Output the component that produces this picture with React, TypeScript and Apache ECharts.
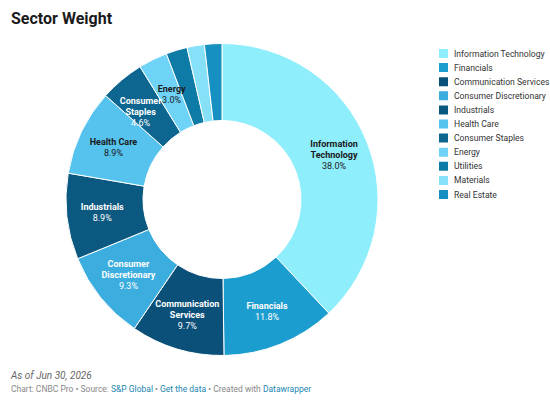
import React, { useEffect, useRef } from "react";
import * as echarts from "echarts";

const sectors = [
  "Information Technology",
  "Financials",
  "Communication Services",
  "Consumer Discretionary",
  "Industrials",
  "Health Care",
  "Consumer Staples",
  "Energy",
  "Utilities",
  "Materials",
  "Real Estate",
];
const labelNames = [
  "Information\nTechnology",
  "Financials",
  "Communication\nServices",
  "Consumer\nDiscretionary",
  "Industrials",
  "Health Care",
  "Consumer\nStaples",
  "Energy",
  "",
  "",
  "",
];
const weights = [38.0, 11.8, 9.7, 9.3, 8.9, 8.9, 4.6, 3.0, 2.2, 1.8, 1.8];
const colors = [
  "#8eeefb",
  "#1c9dcf",
  "#0a5078",
  "#3badde",
  "#0b5980",
  "#56c2ee",
  "#0d6690",
  "#6fd2f7",
  "#0e7aa6",
  "#86e0f8",
  "#1690c0",
];
const labelColors = [
  "#1a1a1a",
  "#ffffff",
  "#ffffff",
  "#ffffff",
  "#ffffff",
  "#1a1a1a",
  "#ffffff",
  "#1a1a1a",
  "#ffffff",
  "#ffffff",
  "#ffffff",
];
const labelOffsets: Record<string, number[]> = {
  "Consumer Staples": [-4, 5],
  Energy: [3, 3],
};

export default function App() {
  const ref = useRef<HTMLDivElement>(null);
  useEffect(() => {
    if (!ref.current) return;
    const chart = echarts.init(ref.current, undefined, { renderer: "svg" });
    const font = "Roboto, 'Noto Sans', sans-serif";
    chart.setOption({
      animation: false,
      textStyle: { fontFamily: font },
      legend: {
        orient: "vertical",
        left: 437,
        top: 47,
        padding: 0,
        icon: "rect",
        itemWidth: 11,
        itemHeight: 11,
        itemGap: 1.1,
        selectedMode: false,
        data: sectors,
        textStyle: { fontSize: 8.6, color: "#333", fontFamily: font, lineHeight: 11 },
      },
      graphic: [
        {
          type: "text",
          left: 11,
          top: 10,
          style: { text: "Sector Weight", fontSize: 16, fontWeight: "bold", fill: "#1a1a1a", fontFamily: font },
        },
        {
          type: "text",
          left: 11,
          top: 370,
          style: { text: "As of Jun 30, 2026", fontSize: 10, fontStyle: "italic", fill: "#666", fontFamily: font },
        },
        {
          type: "text",
          left: 11,
          top: 384,
          style: {
            text: "{g|Chart: CNBC Pro • Source: }{b|S&P Global}{g| • }{b|Get the data}{g| • Created with }{b|Datawrapper}",
            fontFamily: font,
            rich: {
              g: { fontSize: 8.5, fill: "#888", fontFamily: font },
              b: { fontSize: 8.5, fill: "#1d86b0", fontFamily: font },
            },
          },
        },
      ],
      series: [
        {
          type: "pie",
          center: [222, 199.5],
          radius: [79, 156],
          startAngle: 90,
          clockwise: true,
          avoidLabelOverlap: false,
          labelLayout: { hideOverlap: false },
          itemStyle: { borderColor: "#fff", borderWidth: 1 },
          emphasis: { disabled: true },
          label: {
            show: true,
            position: "inside",
            fontFamily: font,
          },
          labelLine: { show: false },
          data: sectors.map((s, i) => ({
            name: s,
            value: weights[i],
            itemStyle: { color: colors[i] },
            label: {
              show: labelNames[i] !== "",
              offset: labelOffsets[s] || [0, 0],
              formatter: () =>
                labelNames[i]
                  .split("\n")
                  .map((l) => `{n|${l}}`)
                  .join("\n") + `\n{v|${weights[i].toFixed(1)}%}`,
              rich: {
                n: { fontSize: 9, fontWeight: "bold", color: labelColors[i], lineHeight: 11, fontFamily: font },
                v: { fontSize: 9, color: labelColors[i], lineHeight: 11, fontFamily: font },
              },
            },
          })),
        },
      ],
    });
    return () => chart.dispose();
  }, []);
  return (
    <div
      ref={ref}
      style={{ position: "fixed", left: 0, top: 0, width: 550, height: 407, background: "#fff" }}
    />
  );
}
